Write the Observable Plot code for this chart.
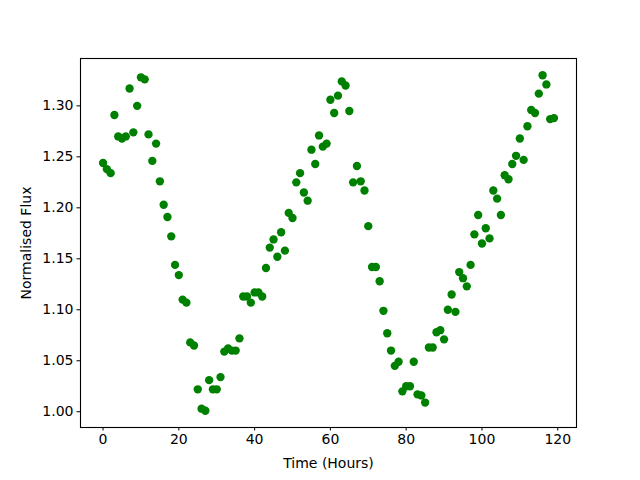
<!DOCTYPE html>
<html>
<head>
<meta charset="utf-8">
<script src="https://cdn.jsdelivr.net/npm/d3@7"></script>
<script src="https://cdn.jsdelivr.net/npm/@observablehq/plot@0.6"></script>
<style>
  html, body { margin: 0; padding: 0; background: white; }
</style>
</head>
<body>
<div id="chart"></div>
<script>
const hours = d3.range(0, 120);
const flux = [
  1.244, 1.238, 1.234, 1.291, 1.270, 1.268, 1.270, 1.317, 1.274, 1.300,
  1.328, 1.326, 1.272, 1.246, 1.263, 1.226, 1.203, 1.191, 1.172, 1.144,
  1.134, 1.110, 1.107, 1.068, 1.065, 1.022, 1.003, 1.001, 1.031, 1.022,
  1.022, 1.034, 1.059, 1.062, 1.060, 1.060, 1.072, 1.113, 1.113, 1.107,
  1.117, 1.117, 1.113, 1.141, 1.161, 1.169, 1.152, 1.176, 1.158, 1.195,
  1.190, 1.225, 1.234, 1.215, 1.207, 1.257, 1.243, 1.271, 1.260, 1.263,
  1.306, 1.293, 1.310, 1.324, 1.320, 1.295, 1.225, 1.241, 1.226, 1.217,
  1.182, 1.142, 1.142, 1.128, 1.099, 1.077, 1.060, 1.045, 1.049, 1.020,
  1.025, 1.025, 1.049, 1.017, 1.016, 1.009, 1.063, 1.063, 1.078, 1.080,
  1.071, 1.100, 1.115, 1.098, 1.137, 1.131, 1.123, 1.144, 1.174, 1.193,
  1.165, 1.180, 1.170, 1.217, 1.209, 1.193, 1.232, 1.228, 1.243, 1.251,
  1.268, 1.247, 1.280, 1.296, 1.293, 1.312, 1.330, 1.321, 1.287, 1.288
];
const xTicks = [0, 20, 40, 60, 80, 100, 120];
const yTicks = [1.00, 1.05, 1.10, 1.15, 1.20, 1.25, 1.30];
const xLabel = "Time (Hours)";
const yLabel = "Normalised Flux";

const data = hours.map((h, i) => ({hour: h, flux: flux[i]}));

const xMin = d3.min(hours), xMax = d3.max(hours);
const yMin = d3.min(flux), yMax = d3.max(flux);
const xPad = (xMax - xMin) * 0.05, yPad = (yMax - yMin) * 0.05;

const font = "DejaVu Sans, sans-serif";

const chart = Plot.plot({
  width: 640,
  height: 480,
  marginLeft: 80,
  marginRight: 64,
  marginTop: 58,
  marginBottom: 53,
  style: {fontFamily: font, fontSize: "14px", color: "black", background: "white"},
  x: {domain: [xMin - xPad, xMax + xPad]},
  y: {domain: [yMin - yPad, yMax + yPad]},
  marks: [
    Plot.dot(data, {x: "hour", y: "flux", r: 4.17, fill: "green", stroke: "none"}),
    Plot.frame({stroke: "black", strokeWidth: 1.1}),
    Plot.axisX({ticks: xTicks, tickFormat: d3.format("d"), tickSize: 3.5, tickPadding: 3.5, label: null, fontSize: 14}),
    Plot.axisY({ticks: yTicks, tickFormat: d3.format(".2f"), tickSize: 3.5, tickPadding: 3.5, label: null, fontSize: 14}),
    Plot.text([xLabel], {frameAnchor: "bottom", dy: 36, textAnchor: "middle", lineAnchor: "middle", fontSize: 14, fill: "black"}),
    Plot.text([yLabel], {frameAnchor: "left", dx: -54, rotate: -90, textAnchor: "middle", lineAnchor: "middle", fontSize: 14, fill: "black"})
  ]
});
document.getElementById("chart").appendChild(chart);
</script>
</body>
</html>
